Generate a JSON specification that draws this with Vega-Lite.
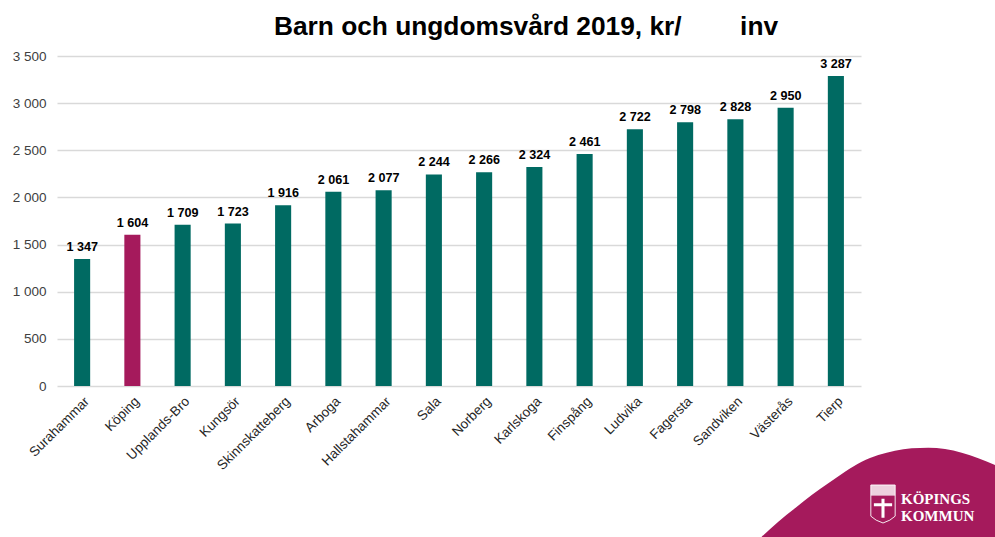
{
"$schema":"https://vega.github.io/schema/vega-lite/v6.json",
"width":804,"height":330,
"autosize":{"type":"none"},
"padding":{"left":57,"top":56,"right":134,"bottom":151},
"background":"white",
"config":{"view":{"stroke":null},"font":"Liberation Sans","locale":{"number":{"decimal":",","thousands":" ","grouping":[3],"currency":["","kr"]}}},
"title":{"text":"Barn och ungdomsvård 2019, kr/\u00a0\u00a0\u00a0\u00a0\u00a0\u00a0\u00a0\u00a0inv","font":"Liberation Sans","fontSize":26.3,"fontWeight":"bold","color":"#000000","anchor":"middle","dx":67,"offset":-12,"baseline":"alphabetic"},
"datasets":{
"bars":[
{"kommun":"Surahammar","kr":1347,"grupp":"Övriga"},
{"kommun":"Köping","kr":1604,"grupp":"Köping"},
{"kommun":"Upplands-Bro","kr":1709,"grupp":"Övriga"},
{"kommun":"Kungsör","kr":1723,"grupp":"Övriga"},
{"kommun":"Skinnskatteberg","kr":1916,"grupp":"Övriga"},
{"kommun":"Arboga","kr":2061,"grupp":"Övriga"},
{"kommun":"Hallstahammar","kr":2077,"grupp":"Övriga"},
{"kommun":"Sala","kr":2244,"grupp":"Övriga"},
{"kommun":"Norberg","kr":2266,"grupp":"Övriga"},
{"kommun":"Karlskoga","kr":2324,"grupp":"Övriga"},
{"kommun":"Finspång","kr":2461,"grupp":"Övriga"},
{"kommun":"Ludvika","kr":2722,"grupp":"Övriga"},
{"kommun":"Fagersta","kr":2798,"grupp":"Övriga"},
{"kommun":"Sandviken","kr":2828,"grupp":"Övriga"},
{"kommun":"Västerås","kr":2950,"grupp":"Övriga"},
{"kommun":"Tierp","kr":3287,"grupp":"Övriga"}
],
"vag":[
{"a":695,"b":-160},{"a":704.7,"b":-150.7},{"a":721.3,"b":-135.7},{"a":738,"b":-122.3},{"a":754.7,"b":-109},{"a":771.3,"b":-97.3},{"a":788,"b":-85.7},{"a":804.7,"b":-75.7},{"a":821.3,"b":-69},{"a":838,"b":-64.7},{"a":854.7,"b":-62.3},{"a":871.3,"b":-61.7},{"a":888,"b":-63},{"a":904.7,"b":-66.7},{"a":921.3,"b":-72.3},{"a":938,"b":-79}
],
"logga":[{"a":826,"b":-118}],
"namn":[{"a":844,"b":-113,"t":"KÖPINGS"},{"a":844,"b":-130,"t":"KOMMUN"}]
},
"resolve":{"scale":{"x":"independent","y":"independent","color":"independent"}},
"layer":[
{"data":{"name":"bars"},
 "encoding":{
  "x":{"field":"kommun","type":"nominal","sort":null,"scale":{"paddingInner":0.68,"paddingOuter":0.34},"axis":{"title":null,"domain":false,"ticks":false,"labelAngle":-45,"labelAlign":"right","labelBaseline":"top","labelFontSize":13.5,"labelColor":"#262626","labelPadding":8,"labelLimit":0,"labelOverlap":false}},
  "y":{"field":"kr","type":"quantitative","scale":{"domain":[0,3500],"nice":false},"axis":{"title":null,"values":[0,500,1000,1500,2000,2500,3000,3500],"format":",.0f","domain":false,"ticks":false,"grid":true,"gridColor":"#d9d9d9","gridWidth":1.5,"labelFontSize":13.5,"labelColor":"#404040","labelPadding":11}}
 },
 "layer":[
  {"mark":{"type":"bar"},"encoding":{"color":{"field":"grupp","type":"nominal","legend":null,"scale":{"domain":["Övriga","Köping"],"range":["#006a62","#a51a5c"]}}}},
  {"mark":{"type":"text","fontWeight":"bold","fontSize":12.6,"color":"#000000","dy":-5,"baseline":"bottom"},"encoding":{"text":{"field":"kr","type":"quantitative","format":","}}}
 ]
},
{"encoding":{
  "x":{"field":"a","type":"quantitative","scale":{"domain":[0,804],"nice":false,"zero":false},"axis":null},
  "y":{"field":"b","type":"quantitative","scale":{"domain":[0,330],"nice":false,"zero":false},"axis":null}
 },
 "layer":[
  {"data":{"name":"vag"},"mark":{"type":"area","color":"#a51a5c","clip":false,"interpolate":"monotone"},"encoding":{"y2":{"datum":-160}}},
  {"data":{"name":"logga"},"mark":{"type":"point","filled":false,"stroke":"#ffffff","strokeWidth":1,"opacity":0.9,"shape":"M-0.32,-0.5 L0.32,-0.5 L0.32,0.32 Q0.2,0.44 0,0.5 Q-0.2,0.44 -0.32,0.32 Z","size":5776}},
  {"data":{"name":"logga"},"mark":{"type":"point","filled":true,"fill":"#ffffff","opacity":0.8,"shape":"M-0.32,-0.5 L-0.32,-0.22 L0.32,-0.22 L0.32,-0.5 Z","size":5776}},
  {"data":{"name":"logga"},"mark":{"type":"point","filled":true,"fill":"#ffffff","opacity":1,"shape":"M-0.04,-0.14 L0.04,-0.14 L0.04,-0.02 L0.24,-0.02 L0.24,0.06 L0.04,0.06 L0.04,0.36 L-0.04,0.36 L-0.04,0.06 L-0.24,0.06 L-0.24,-0.02 L-0.04,-0.02 Z","size":5776}},
  {"data":{"name":"namn"},"mark":{"type":"text","align":"left","baseline":"middle","font":"Liberation Serif","fontSize":15,"fontWeight":"bold","color":"#ffffff"},"encoding":{"text":{"field":"t"}}}
 ]
}
]
}
